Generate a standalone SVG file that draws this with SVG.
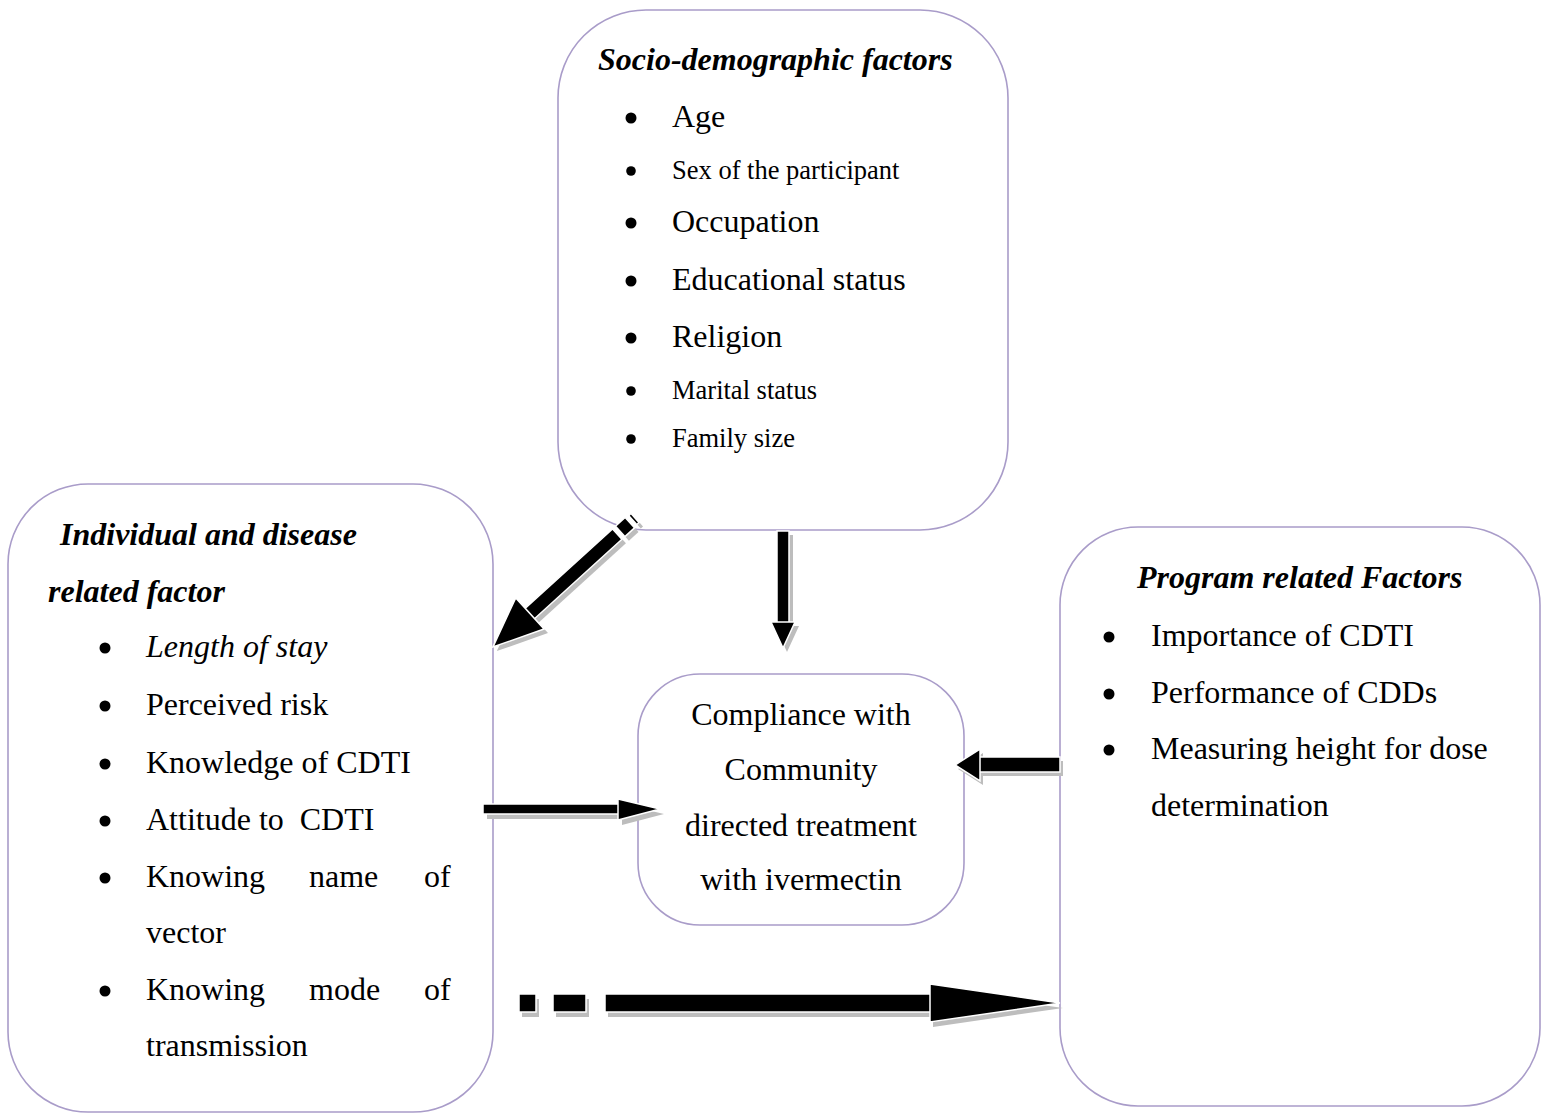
<svg xmlns="http://www.w3.org/2000/svg" width="1550" height="1114" viewBox="0 0 1550 1114">
<style>
.box{fill:#fff;stroke:#a99cc9;stroke-width:1.6}
.t{font-family:"Liberation Serif","Times New Roman",serif;font-size:32px;fill:#000}
.s{font-size:26.5px}
.h{font-weight:bold;font-style:italic}
.i{font-style:italic}
.c{text-anchor:middle}
.ar{fill:#000;stroke:#fff;stroke-width:1.5}
.sh{fill:#bdbdbd}
.dot{fill:#000}
</style>
<rect width="1550" height="1114" fill="#fff"/>
<g id="socio">
<rect class="box" x="558" y="10" width="450" height="520" rx="88" ry="88"/>
<text class="t h" x="598" y="70">Socio-demographic factors</text>
<circle class="dot" cx="631" cy="118" r="5.5"/><text class="t" x="672" y="127">Age</text>
<circle class="dot" cx="631" cy="171" r="4.8"/><text class="t s" x="672" y="179">Sex of the participant</text>
<circle class="dot" cx="631" cy="223" r="5.5"/><text class="t" x="672" y="232">Occupation</text>
<circle class="dot" cx="631" cy="281" r="5.5"/><text class="t" x="672" y="290">Educational status</text>
<circle class="dot" cx="631" cy="338" r="5.5"/><text class="t" x="672" y="347">Religion</text>
<circle class="dot" cx="631" cy="391" r="4.8"/><text class="t s" x="672" y="399">Marital status</text>
<circle class="dot" cx="631" cy="439" r="4.8"/><text class="t s" x="672" y="447">Family size</text>
</g>
<g id="individual">
<rect class="box" x="8" y="484" width="485" height="628" rx="80" ry="80"/>
<text class="t h" x="60" y="545">Individual and disease</text>
<text class="t h" x="48" y="602">related factor</text>
<circle class="dot" cx="105" cy="648" r="5.5"/><text class="t i" x="146" y="657">Length of stay</text>
<circle class="dot" cx="105" cy="706" r="5.5"/><text class="t" x="146" y="715">Perceived risk</text>
<circle class="dot" cx="105" cy="764" r="5.5"/><text class="t" x="146" y="773">Knowledge of CDTI</text>
<circle class="dot" cx="105" cy="821" r="5.5"/><text class="t" x="146" y="830" xml:space="preserve">Attitude to  CDTI</text>
<circle class="dot" cx="105" cy="878" r="5.5"/><text class="t" x="146" y="887">Knowing</text><text class="t" x="309" y="887">name</text><text class="t" x="424" y="887">of</text>
<text class="t" x="146" y="943">vector</text>
<circle class="dot" cx="105" cy="991" r="5.5"/><text class="t" x="146" y="1000">Knowing</text><text class="t" x="309" y="1000">mode</text><text class="t" x="424" y="1000">of</text>
<text class="t" x="146" y="1056">transmission</text>
</g>
<g id="program">
<rect class="box" x="1060" y="527" width="480" height="579" rx="78" ry="78"/>
<text class="t h" x="1137" y="588">Program related Factors</text>
<circle class="dot" cx="1109" cy="637" r="5.5"/><text class="t" x="1151" y="646">Importance of CDTI</text>
<circle class="dot" cx="1109" cy="694" r="5.5"/><text class="t" x="1151" y="703">Performance of CDDs</text>
<circle class="dot" cx="1109" cy="750" r="5.5"/><text class="t" x="1151" y="759">Measuring height for dose</text>
<text class="t" x="1151" y="816">determination</text>
</g>
<g id="compliance">
<rect class="box" x="638" y="674" width="326" height="251" rx="62" ry="62"/>
<text class="t c" x="801" y="725">Compliance with</text>
<text class="t c" x="801" y="780">Community</text>
<text class="t c" x="801" y="836">directed treatment</text>
<text class="t c" x="801" y="890">with ivermectin</text>
</g>
<g id="connectors">
<!-- diagonal: socio -> individual -->
<g transform="translate(639,522) rotate(137.76)" class="sh">
<rect x="0" y="-6" width="3" height="12"/>
<rect x="7" y="-7" width="13" height="14"/>
<rect x="24" y="-7" width="120" height="14"/>
<polygon points="142,-21 192,0 142,21"/>
</g>
<g transform="translate(635,518) rotate(137.76)" class="ar">
<rect x="0" y="-6" width="3" height="12"/>
<rect x="7" y="-7" width="13" height="14"/>
<rect x="24" y="-7" width="120" height="14"/>
<polygon points="142,-21 192,0 142,21"/>
</g>
<!-- down: socio -> compliance -->
<g class="sh" transform="translate(4,4)">
<rect x="777" y="531" width="12" height="92"/>
<polygon points="771,622 795,622 783,648"/>
</g>
<g class="ar">
<rect x="777" y="531" width="12" height="92"/>
<polygon points="771,622 795,622 783,648"/>
</g>
<!-- left box -> compliance -->
<g class="sh" transform="translate(4,5)">
<rect x="483" y="804" width="136" height="10"/>
<polygon points="618,799 660,809 618,820"/>
</g>
<g class="ar">
<rect x="483" y="804" width="136" height="10"/>
<polygon points="618,799 660,809 618,820"/>
</g>
<!-- program -> compliance -->
<g class="sh" transform="translate(3,4)">
<rect x="978" y="757" width="82" height="15"/>
<polygon points="980,749 955,765 980,781"/>
</g>
<g class="ar">
<rect x="978" y="757" width="82" height="15"/>
<polygon points="980,749 955,765 980,781"/>
</g>
<!-- bottom: individual -> program -->
<g class="sh" transform="translate(3,5)">
<rect x="519" y="994" width="17" height="18"/>
<rect x="553" y="994" width="33" height="18"/>
<rect x="605" y="994" width="326" height="18"/>
<polygon points="930,984 1060,1003 930,1022"/>
</g>
<g class="ar">
<rect x="519" y="994" width="17" height="18"/>
<rect x="553" y="994" width="33" height="18"/>
<rect x="605" y="994" width="326" height="18"/>
<polygon points="930,984 1060,1003 930,1022"/>
</g>
</g>
</svg>
